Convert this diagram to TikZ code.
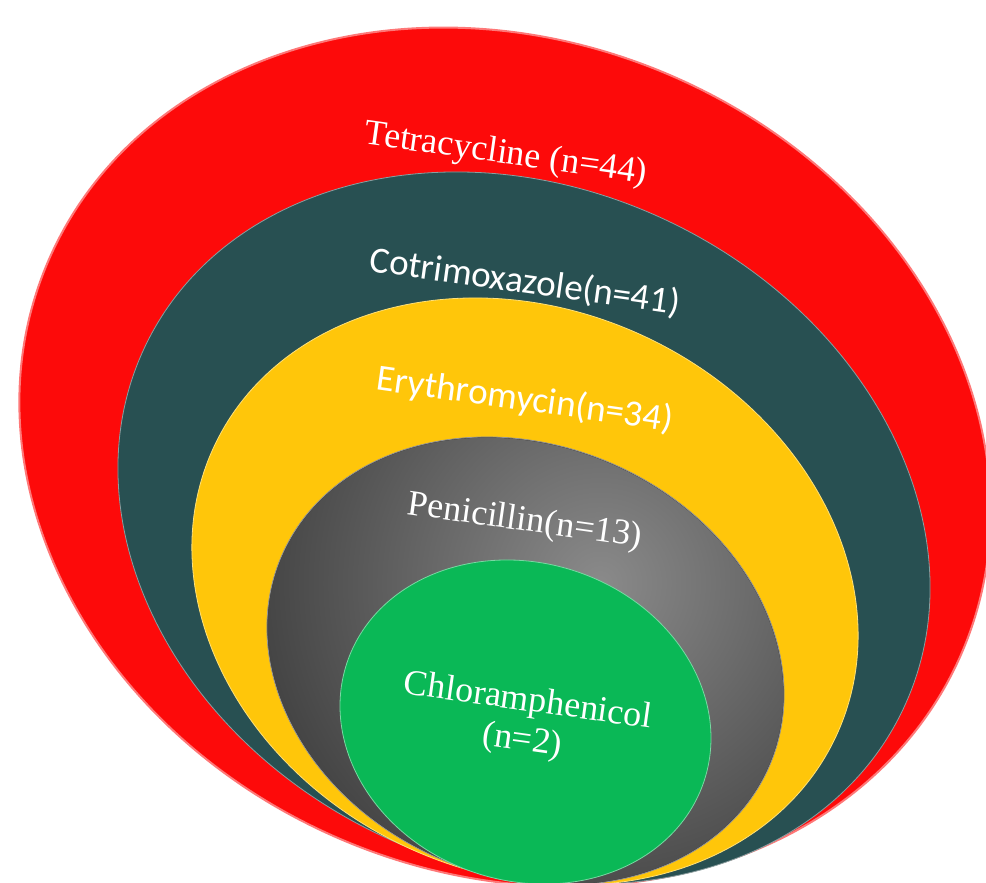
\documentclass[tikz,border=0pt]{standalone}
\usepackage{fontspec}
\setmainfont{Liberation Serif}
\newfontfamily\calibrifont{Carlito}
\definecolor{tetrared}{RGB}{253,10,10}
\definecolor{cotriteal}{RGB}{40,80,82}
\definecolor{erythgold}{RGB}{255,198,10}
\definecolor{penigray}{RGB}{64,64,64}
\definecolor{penilight}{RGB}{138,138,138}
\definecolor{chlorgreen}{RGB}{10,184,86}
\pgfdeclareradialshading{penishade}{\pgfpoint{0bp}{0bp}}{
	color(0bp)=(penilight);
	color(19bp)=(penigray);
	color(50bp)=(penigray)
}
\tikzset{
	ring/.style={
		fill=#1,
		draw=#1!55!white,
		line width=0.8pt,
	},
	drug/.style={
		text=white,
		align=center,
		rotate=-8,
		inner sep=0pt,
		font=\fontsize{36}{40}\selectfont,
	},
	drugsans/.style={
		drug,
		font=\calibrifont\fontsize{37}{40}\selectfont,
	},
}

\begin{document}
\begin{tikzpicture}[x=1pt,y=-1pt]
		\useasboundingbox (0,0) rectangle (986,883);
		\clip (0,0) rectangle (986,883);

		% rings, outermost first
		\path[ring=tetrared, line width=2pt, rotate around={-23:(505,457)}] (505,457) ellipse [x radius=497, y radius=416];
		\path[ring=cotriteal, rotate around={-25.9:(524,528)}] (524,528) ellipse [x radius=420.2, y radius=339.1];
		\path[ring=erythgold, rotate around={-24.9:(525,591.5)}] (525,591.5) ellipse [x radius=343.1, y radius=281.7];
		\path[ring=penigray, rotate around={-23.1:(525.5,661)}] (525.5,661) ellipse [x radius=265.6, y radius=215.6];
		\begin{scope}[rotate around={-23.1:(525.5,661)}]
			\clip (525.5,661) ellipse [x radius=264.8, y radius=214.8];
			\shade[shading=penishade] (563.4,560) circle (420);
		\end{scope}
		\path[ring=chlorgreen, rotate around={-18.2:(525.5,722)}] (525.5,722) ellipse [x radius=188.1, y radius=158.9];

		% labels
		\node[drug] (tetra) at (506,155) {Tetracycline (n=44)};
		\node[drugsans] (cotri) at (525,282) {Cotrimoxazole(n=41)};
		\node[drugsans] (eryth) at (525,400) {Erythromycin(n=34)};
		\node[drug] (peni) at (525,522) {Penicillin(n=13)};
		\node[drug] (chlor) at (525,722) {Chloramphenicol\\(n=2)};

	\end{tikzpicture}
\end{document}
